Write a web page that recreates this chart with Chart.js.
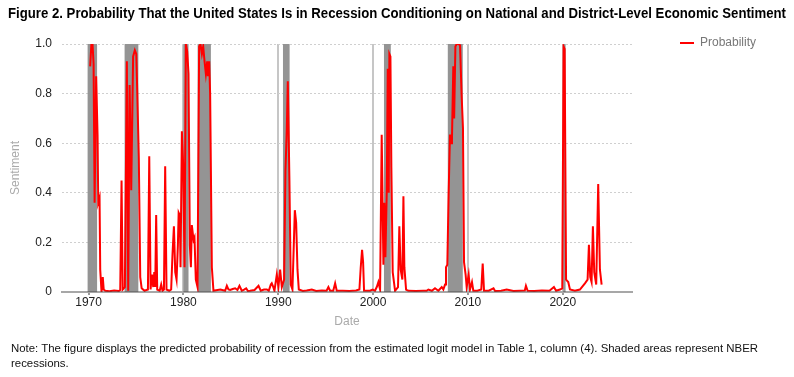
<!DOCTYPE html>
<html>
<head>
<meta charset="utf-8">
<script src="https://cdn.jsdelivr.net/npm/chart.js@4.4.1/dist/chart.umd.min.js"></script>
<style>
  html, body { margin: 0; padding: 0; background: #fff; }
  #wrap { position: relative; width: 794px; height: 377px; overflow: hidden;
          font-family: "Liberation Sans", Arial, sans-serif; }
  #chart { position: absolute; left: 0; top: 0; }
  .fit { position: absolute; white-space: nowrap; transform-origin: 0 0; color: #000; }
  #title { left: 8px; top: 4px; font-size: 15px; font-weight: bold; line-height: 17px; }
  #note { left: 11px; top: 341px; font-size: 11px; line-height: 15px; color: #111; }
</style>
</head>
<body>
<div id="wrap">
  <canvas id="chart" width="794" height="377"></canvas>
  <div id="title" class="fit" data-w="778">Figure 2. Probability That the United States Is in Recession Conditioning on National and District-Level Economic Sentiment</div>
  <div id="note" class="fit" data-w="747">Note: The figure displays the predicted probability of recession from the estimated logit model in Table 1, column (4). Shaded areas represent NBER<br>recessions.</div>
</div>
<script>
// Probability series (decimal year, value)
const probDates = [
  1970.17, 1970.3, 1970.42, 1970.53, 1970.64, 1970.8, 1970.95, 1971.02, 1971.16, 1971.23,
  1971.37, 1971.5, 1971.6, 1971.76, 1972.2, 1972.7, 1973.2, 1973.34, 1973.48, 1973.6,
  1973.83, 1974.04, 1974.18, 1974.33, 1974.5, 1974.7, 1974.88, 1975.03, 1975.12, 1975.3,
  1975.45, 1975.6, 1975.9, 1976.26, 1976.4, 1976.54, 1976.68, 1976.82, 1976.93, 1977.03,
  1977.13, 1977.24, 1977.5, 1977.66, 1977.8, 1977.95, 1978.08, 1978.22, 1978.5, 1978.71,
  1978.85, 1979.0, 1979.14, 1979.28, 1979.42, 1979.5, 1979.62, 1979.7, 1979.84, 1979.98,
  1980.12, 1980.26, 1980.4, 1980.54, 1980.68, 1980.79, 1980.89, 1981.07, 1981.17, 1981.31,
  1981.49, 1981.66, 1981.8, 1981.95, 1982.09, 1982.23, 1982.37, 1982.51, 1982.58, 1982.72,
  1982.82, 1983.0, 1983.17, 1983.6, 1983.9, 1984.4, 1984.58, 1984.75, 1984.93, 1985.2,
  1985.46, 1985.7, 1985.91, 1986.16, 1986.4, 1986.62, 1986.8, 1987.04, 1987.5, 1987.92,
  1988.16, 1988.5, 1988.8, 1989.0, 1989.22, 1989.32, 1989.43, 1989.6, 1989.85, 1990.02,
  1990.2, 1990.38, 1990.62, 1990.76, 1990.9, 1991.01, 1991.18, 1991.32, 1991.5, 1991.75,
  1991.89, 1992.03, 1992.17, 1992.6, 1993.0, 1993.54, 1994.0, 1994.6, 1995.1, 1995.29,
  1995.47, 1995.8, 1996.0, 1996.17, 1996.8, 1997.5, 1998.2, 1998.56, 1998.7, 1998.84,
  1998.95, 1999.05, 1999.68, 1999.96, 2000.2, 2000.39, 2000.56, 2000.74, 2000.91, 2001.09,
  2001.19, 2001.3, 2001.44, 2001.55, 2001.65, 2001.72, 2001.83, 2001.93, 2002.07, 2002.32,
  2002.63, 2002.77, 2002.91, 2003.09, 2003.2, 2003.3, 2003.48, 2003.72, 2004.5, 2005.3,
  2005.65, 2005.83, 2006.2, 2006.53, 2006.88, 2007.24, 2007.41, 2007.59, 2007.69, 2007.83,
  2007.97, 2008.11, 2008.22, 2008.32, 2008.46, 2008.55, 2008.68, 2008.82, 2008.99, 2009.17,
  2009.34, 2009.48, 2009.59, 2009.76, 2009.87, 2010.08, 2010.22, 2010.43, 2010.57, 2011.0,
  2011.41, 2011.56, 2011.7, 2012.2, 2012.7, 2012.86, 2013.5, 2014.09, 2014.8, 2015.5,
  2016.0, 2016.12, 2016.3, 2017.0, 2017.8, 2018.6, 2019.07, 2019.3, 2019.71, 2019.95,
  2020.09, 2020.2, 2020.35, 2020.58, 2020.76, 2021.28, 2021.81, 2022.34, 2022.62, 2022.76,
  2022.9, 2023.04, 2023.18, 2023.32, 2023.53, 2023.74, 2023.92, 2024.1
];
const probValues = [
  0.91, 1.0, 1.0, 0.92, 0.36, 0.87, 0.63, 0.36, 0.38, 0.09,
  0.0, 0.06, 0.01, 0.005, 0.003, 0.006, 0.004, 0.008, 0.45, 0.01,
  0.02, 0.93, 0.005, 0.835, 0.41, 0.95, 0.975, 0.96, 0.83, 0.54,
  0.06, 0.015, 0.005, 0.01, 0.547, 0.01, 0.07, 0.02, 0.08, 0.02,
  0.31, 0.01, 0.005, 0.03, 0.005, 0.01, 0.507, 0.01, 0.005, 0.01,
  0.15, 0.265, 0.08, 0.05, 0.19, 0.32, 0.31, 0.1, 0.648, 0.51,
  0.1, 1.0, 0.97, 0.88, 0.19, 0.1, 0.27, 0.21, 0.22, 0.05,
  0.02, 0.99, 1.0, 0.96, 0.99, 0.93, 0.88, 0.93, 0.87, 0.93,
  0.8, 0.1, 0.005, 0.008, 0.01, 0.005, 0.025, 0.01, 0.008, 0.012,
  0.015, 0.008, 0.025, 0.005, 0.01, 0.015, 0.004, 0.005, 0.008, 0.025,
  0.005, 0.01, 0.01, 0.005, 0.03, 0.035, 0.025, 0.005, 0.07, 0.02,
  0.09, 0.02, 0.05, 0.49, 0.65, 0.85, 0.45, 0.03, 0.01, 0.33,
  0.28, 0.09, 0.01, 0.004, 0.006, 0.01, 0.004, 0.006, 0.005, 0.02,
  0.005, 0.005, 0.035, 0.005, 0.005, 0.004, 0.006, 0.01, 0.1, 0.17,
  0.12, 0.005, 0.005, 0.01, 0.005, 0.02, 0.04, 0.01, 0.634, 0.11,
  0.36, 0.14, 0.4, 0.9, 0.4, 0.96, 0.95, 0.5, 0.08, 0.005,
  0.02, 0.265, 0.09, 0.05, 0.386, 0.1, 0.01, 0.005, 0.004, 0.005,
  0.005, 0.01, 0.005, 0.015, 0.005, 0.02, 0.01, 0.03, 0.1, 0.11,
  0.4, 0.635, 0.6, 0.62, 0.91, 0.7, 0.99, 1.0, 1.0, 0.995,
  0.79, 0.66, 0.12, 0.07, 0.02, 0.07, 0.01, 0.04, 0.005, 0.005,
  0.01, 0.115, 0.005, 0.005, 0.015, 0.004, 0.005, 0.01, 0.004, 0.005,
  0.006, 0.025, 0.005, 0.004, 0.006, 0.005, 0.02, 0.005, 0.01, 0.015,
  0.99, 0.98, 0.05, 0.04, 0.01, 0.005, 0.01, 0.035, 0.05, 0.19,
  0.06, 0.04, 0.265, 0.08, 0.03, 0.435, 0.09, 0.03
];

// NBER recessions (decimal year)
const recessionStarts = [1969.9, 1973.8, 1980.0, 1981.5, 1990.5, 2001.15, 2007.88, 2020.05];
const recessionEnds   = [1970.9, 1975.25, 1980.54, 1982.9, 1991.2, 2001.87, 2009.46, 2020.3];

// axis ticks
const xTickValues = [1970, 1980, 1990, 2000, 2010, 2020];
const yTickValues = [0, 0.2, 0.4, 0.6, 0.8, 1.0];

const X_MIN = 1967.2;
const X_MAX = 2027.3;

const probPoints = probDates.map((d, i) => ({ x: d, y: probValues[i] }));

// step outline of the recession shading: up at each start, down at each end
const bandPoints = [{ x: X_MIN, y: 0 }];
recessionStarts.forEach((s, i) => {
  bandPoints.push({ x: s, y: 1 }, { x: recessionEnds[i], y: 0 });
});
bandPoints.push({ x: X_MAX, y: 0 });

Chart.defaults.font.family = '"Liberation Sans", Arial, sans-serif';
Chart.defaults.font.size = 12;

new Chart(document.getElementById("chart"), {
  type: "line",
  data: {
    datasets: [
      {
        label: "Probability",
        data: probPoints,
        borderColor: "#ff0000",
        backgroundColor: "#ff0000",
        borderWidth: 2,
        pointRadius: 0,
        tension: 0,
        fill: false,
      },
      {
        label: "NBER recessions",
        data: bandPoints,
        stepped: true,
        borderWidth: 0,
        borderColor: "rgba(0,0,0,0)",
        backgroundColor: "#949494",
        pointRadius: 0,
        fill: "origin",
      },
    ],
  },
  options: {
    responsive: false,
    animation: false,
    layout: { padding: { left: 4, right: 28, top: 0, bottom: 0 } },
    plugins: {
      legend: {
        position: "right",
        align: "start",
        labels: {
          filter: (item) => item.datasetIndex === 0,
          usePointStyle: true,
          pointStyle: "line",
          pointStyleWidth: 14,
          padding: 37,
          color: "#777",
          font: { size: 12 },
        },
      },
      tooltip: { enabled: false },
    },
    scales: {
      x: {
        type: "linear",
        min: X_MIN,
        max: X_MAX,
        afterFit: (s) => { s.height = 85; },
        afterBuildTicks: (s) => { s.ticks = xTickValues.map((v) => ({ value: v })); },
        ticks: {
          maxRotation: 0,
          autoSkip: false,
          padding: 0,
          color: "#222",
          callback: (v) => String(v),
        },
        grid: { color: "#c6c6c6", lineWidth: 2, tickLength: 3, tickColor: "#999" },
        // drawn above the line so the flat stretches look darker, as in the figure
        border: { color: "rgba(80,80,80,0.5)", width: 2, z: 1 },
        title: { display: true, text: "Date", color: "#aaa", padding: { top: 0, bottom: 48 } },
      },
      y: {
        min: 0,
        max: 1,
        afterFit: (s) => { s.width = 58; },
        afterBuildTicks: (s) => { s.ticks = yTickValues.map((v) => ({ value: v })); },
        ticks: {
          padding: 10,
          color: "#222",
          callback: (v) => (v === 0 ? "0" : v.toFixed(1)),
        },
        grid: {
          drawTicks: false,
          color: (ctx) => (ctx.tick && ctx.tick.value === 0 ? "rgba(0,0,0,0)" : "#cfcfcf"),
        },
        border: { display: false, dash: [2, 2] },
        title: { display: true, text: "Sentiment", color: "#aaa", padding: { top: 4, bottom: 0 } },
      },
      // spacers that fix the plot area margins
      xTop: {
        type: "linear",
        position: "top",
        afterFit: (s) => { s.height = 44; },
        ticks: { display: false },
        grid: { display: false },
        border: { display: false },
      },
      yRight: {
        type: "linear",
        position: "right",
        afterFit: (s) => { s.width = 11; },
        ticks: { display: false },
        grid: { display: false },
        border: { display: false },
      },
    },
  },
});

// squeeze the title and note to the widths in the figure
document.querySelectorAll(".fit").forEach((el) => {
  const w = el.getBoundingClientRect().width;
  el.style.transform = "scaleX(" + el.dataset.w / w + ")";
});
</script>
</body>
</html>
